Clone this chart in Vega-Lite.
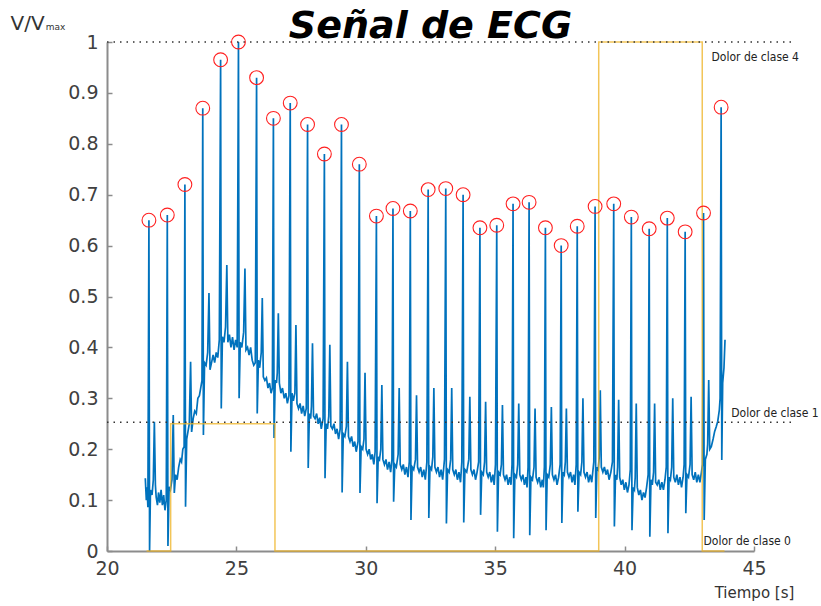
{
  "$schema": "https://vega.github.io/schema/vega-lite/v6.json",
  "width": 647,
  "height": 509,
  "autosize": {"type": "none"},
  "padding": {"left": 107, "top": 42, "right": 67, "bottom": 55},
  "background": "white",
  "title": {
    "text": "Señal de ECG",
    "font": "DejaVu Sans",
    "fontSize": 38,
    "fontWeight": "bold",
    "fontStyle": "italic",
    "color": "#000000",
    "anchor": "middle",
    "frame": "group",
    "offset": 4,
    "dy": 37
  },
  "config": {
    "view": {"stroke": null},
    "font": "DejaVu Sans"
  },
  "datasets": {
    "ecg": [
      {"t":21.48,"v":0.143},{"t":21.52,"v":0.10},{"t":21.55,"v":0.125},{"t":21.58,"v":0.086},
      {"t":21.62,"v":0.65},{"t":21.645,"v":0.0},{"t":21.68,"v":0.12},{"t":21.74,"v":0.11},{"t":21.79,"v":0.14},{"t":21.83,"v":0.254},{"t":21.87,"v":0.13},{"t":21.9,"v":0.106},{"t":21.95,"v":0.09},{"t":21.99,"v":0.115},{"t":22.04,"v":0.095},{"t":22.09,"v":0.12},{"t":22.14,"v":0.09},{"t":22.19,"v":0.11},{"t":22.24,"v":0.08},{"t":22.29,"v":0.1},
      {"t":22.33,"v":0.66},{"t":22.355,"v":0.01},{"t":22.40,"v":0.126},{"t":22.45,"v":0.12},{"t":22.51,"v":0.14},{"t":22.56,"v":0.267},{"t":22.60,"v":0.114},{"t":22.65,"v":0.15},{"t":22.71,"v":0.14},{"t":22.77,"v":0.165},{"t":22.83,"v":0.18},{"t":22.88,"v":0.175},{"t":22.93,"v":0.2},{"t":22.98,"v":0.205},
      {"t":23.01,"v":0.72},{"t":23.035,"v":0.087},{"t":23.08,"v":0.22},{"t":23.13,"v":0.235},{"t":23.18,"v":0.25},{"t":23.23,"v":0.372},{"t":23.27,"v":0.234},{"t":23.33,"v":0.26},{"t":23.39,"v":0.275},{"t":23.45,"v":0.27},{"t":23.51,"v":0.3},{"t":23.57,"v":0.305},{"t":23.62,"v":0.32},{"t":23.67,"v":0.335},
      {"t":23.70,"v":0.87},{"t":23.725,"v":0.228},{"t":23.77,"v":0.37},{"t":23.83,"v":0.365},{"t":23.89,"v":0.39},{"t":23.94,"v":0.507},{"t":23.98,"v":0.356},{"t":24.04,"v":0.37},{"t":24.1,"v":0.385},{"t":24.16,"v":0.37},{"t":24.22,"v":0.39},{"t":24.28,"v":0.38},{"t":24.34,"v":0.415},
      {"t":24.39,"v":0.965},{"t":24.415,"v":0.28},{"t":24.46,"v":0.421},{"t":24.52,"v":0.41},{"t":24.58,"v":0.44},{"t":24.63,"v":0.562},{"t":24.67,"v":0.41},{"t":24.73,"v":0.425},{"t":24.79,"v":0.4},{"t":24.85,"v":0.42},{"t":24.91,"v":0.395},{"t":24.97,"v":0.415},{"t":25.03,"v":0.4},
      {"t":25.08,"v":1.0},{"t":25.105,"v":0.30},{"t":25.15,"v":0.41},{"t":25.21,"v":0.4},{"t":25.28,"v":0.43},{"t":25.33,"v":0.555},{"t":25.37,"v":0.395},{"t":25.43,"v":0.4},{"t":25.49,"v":0.385},{"t":25.55,"v":0.4},{"t":25.61,"v":0.375},{"t":25.67,"v":0.365},{"t":25.73,"v":0.37},
      {"t":25.78,"v":0.93},{"t":25.805,"v":0.27},{"t":25.85,"v":0.375},{"t":25.9,"v":0.36},{"t":25.96,"v":0.39},{"t":26.0,"v":0.497},{"t":26.04,"v":0.342},{"t":26.1,"v":0.335},{"t":26.16,"v":0.34},{"t":26.22,"v":0.32},{"t":26.28,"v":0.33},{"t":26.34,"v":0.31},{"t":26.39,"v":0.32},
      {"t":26.43,"v":0.85},{"t":26.455,"v":0.222},{"t":26.5,"v":0.336},{"t":26.55,"v":0.33},{"t":26.58,"v":0.35},{"t":26.62,"v":0.467},{"t":26.66,"v":0.33},{"t":26.72,"v":0.31},{"t":26.78,"v":0.32},{"t":26.85,"v":0.3},{"t":26.91,"v":0.31},{"t":26.97,"v":0.29},{"t":27.03,"v":0.305},
      {"t":27.08,"v":0.88},{"t":27.105,"v":0.195},{"t":27.15,"v":0.31},{"t":27.2,"v":0.295},{"t":27.26,"v":0.31},{"t":27.3,"v":0.444},{"t":27.34,"v":0.29},{"t":27.4,"v":0.28},{"t":27.46,"v":0.29},{"t":27.52,"v":0.27},{"t":27.58,"v":0.285},{"t":27.64,"v":0.265},{"t":27.7,"v":0.28},
      {"t":27.75,"v":0.838},{"t":27.775,"v":0.163},{"t":27.82,"v":0.27},{"t":27.87,"v":0.26},{"t":27.9,"v":0.285},{"t":27.94,"v":0.408},{"t":27.98,"v":0.265},{"t":28.04,"v":0.26},{"t":28.1,"v":0.27},{"t":28.16,"v":0.25},{"t":28.22,"v":0.262},{"t":28.28,"v":0.24},{"t":28.35,"v":0.26},
      {"t":28.40,"v":0.78},{"t":28.425,"v":0.143},{"t":28.47,"v":0.25},{"t":28.52,"v":0.24},{"t":28.57,"v":0.265},{"t":28.61,"v":0.405},{"t":28.65,"v":0.245},{"t":28.71,"v":0.24},{"t":28.77,"v":0.25},{"t":28.83,"v":0.23},{"t":28.89,"v":0.24},{"t":28.95,"v":0.22},{"t":29.01,"v":0.24},
      {"t":29.06,"v":0.838},{"t":29.085,"v":0.115},{"t":29.13,"v":0.23},{"t":29.19,"v":0.225},{"t":29.25,"v":0.245},{"t":29.29,"v":0.372},{"t":29.33,"v":0.225},{"t":29.39,"v":0.215},{"t":29.45,"v":0.225},{"t":29.51,"v":0.205},{"t":29.57,"v":0.215},{"t":29.63,"v":0.195},{"t":29.70,"v":0.215},
      {"t":29.75,"v":0.76},{"t":29.775,"v":0.114},{"t":29.82,"v":0.205},{"t":29.88,"v":0.2},{"t":29.93,"v":0.22},{"t":29.97,"v":0.35},{"t":30.01,"v":0.2},{"t":30.07,"v":0.19},{"t":30.13,"v":0.2},{"t":30.19,"v":0.18},{"t":30.25,"v":0.19},{"t":30.31,"v":0.17},{"t":30.36,"v":0.195},
      {"t":30.41,"v":0.658},{"t":30.435,"v":0.094},{"t":30.48,"v":0.185},{"t":30.53,"v":0.18},{"t":30.58,"v":0.2},{"t":30.62,"v":0.326},{"t":30.66,"v":0.18},{"t":30.72,"v":0.17},{"t":30.78,"v":0.18},{"t":30.84,"v":0.16},{"t":30.9,"v":0.175},{"t":30.96,"v":0.155},{"t":31.01,"v":0.18},
      {"t":31.05,"v":0.673},{"t":31.075,"v":0.097},{"t":31.12,"v":0.17},{"t":31.18,"v":0.165},{"t":31.25,"v":0.19},{"t":31.29,"v":0.32},{"t":31.33,"v":0.17},{"t":31.39,"v":0.16},{"t":31.45,"v":0.17},{"t":31.51,"v":0.15},{"t":31.57,"v":0.165},{"t":31.63,"v":0.145},{"t":31.68,"v":0.175},
      {"t":31.72,"v":0.668},{"t":31.745,"v":0.061},{"t":31.79,"v":0.165},{"t":31.85,"v":0.16},{"t":31.92,"v":0.18},{"t":31.96,"v":0.306},{"t":32.0,"v":0.165},{"t":32.06,"v":0.155},{"t":32.12,"v":0.165},{"t":32.18,"v":0.145},{"t":32.24,"v":0.16},{"t":32.3,"v":0.14},{"t":32.36,"v":0.175},
      {"t":32.41,"v":0.71},{"t":32.435,"v":0.065},{"t":32.48,"v":0.165},{"t":32.54,"v":0.16},{"t":32.59,"v":0.185},{"t":32.63,"v":0.32},{"t":32.67,"v":0.165},{"t":32.73,"v":0.155},{"t":32.79,"v":0.165},{"t":32.85,"v":0.145},{"t":32.91,"v":0.16},{"t":32.97,"v":0.14},{"t":33.04,"v":0.18},
      {"t":33.09,"v":0.712},{"t":33.115,"v":0.054},{"t":33.16,"v":0.16},{"t":33.22,"v":0.155},{"t":33.28,"v":0.18},{"t":33.32,"v":0.32},{"t":33.36,"v":0.16},{"t":33.42,"v":0.15},{"t":33.48,"v":0.16},{"t":33.54,"v":0.14},{"t":33.6,"v":0.155},{"t":33.66,"v":0.135},{"t":33.71,"v":0.175},
      {"t":33.76,"v":0.70},{"t":33.785,"v":0.056},{"t":33.83,"v":0.16},{"t":33.9,"v":0.155},{"t":33.98,"v":0.18},{"t":34.02,"v":0.303},{"t":34.06,"v":0.16},{"t":34.12,"v":0.15},{"t":34.18,"v":0.16},{"t":34.24,"v":0.14},{"t":34.3,"v":0.155},{"t":34.36,"v":0.175},
      {"t":34.41,"v":0.635},{"t":34.435,"v":0.071},{"t":34.48,"v":0.155},{"t":34.54,"v":0.15},{"t":34.59,"v":0.175},{"t":34.63,"v":0.293},{"t":34.67,"v":0.155},{"t":34.73,"v":0.145},{"t":34.79,"v":0.155},{"t":34.85,"v":0.135},{"t":34.91,"v":0.15},{"t":34.96,"v":0.13},{"t":35.01,"v":0.17},
      {"t":35.06,"v":0.64},{"t":35.085,"v":0.038},{"t":35.13,"v":0.155},{"t":35.19,"v":0.15},{"t":35.24,"v":0.17},{"t":35.28,"v":0.287},{"t":35.32,"v":0.15},{"t":35.38,"v":0.14},{"t":35.44,"v":0.15},{"t":35.5,"v":0.13},{"t":35.56,"v":0.145},{"t":35.61,"v":0.13},{"t":35.65,"v":0.17},
      {"t":35.69,"v":0.682},{"t":35.715,"v":0.025},{"t":35.76,"v":0.15},{"t":35.82,"v":0.145},{"t":35.87,"v":0.17},{"t":35.91,"v":0.29},{"t":35.95,"v":0.15},{"t":36.01,"v":0.14},{"t":36.07,"v":0.15},{"t":36.13,"v":0.13},{"t":36.19,"v":0.145},{"t":36.23,"v":0.125},{"t":36.27,"v":0.165},
      {"t":36.31,"v":0.685},{"t":36.335,"v":0.031},{"t":36.38,"v":0.145},{"t":36.44,"v":0.14},{"t":36.5,"v":0.165},{"t":36.54,"v":0.28},{"t":36.58,"v":0.145},{"t":36.64,"v":0.135},{"t":36.7,"v":0.145},{"t":36.76,"v":0.125},{"t":36.82,"v":0.14},{"t":36.86,"v":0.125},{"t":36.9,"v":0.165},
      {"t":36.94,"v":0.635},{"t":36.965,"v":0.041},{"t":37.01,"v":0.15},{"t":37.07,"v":0.145},{"t":37.13,"v":0.17},{"t":37.17,"v":0.283},{"t":37.21,"v":0.15},{"t":37.27,"v":0.14},{"t":37.33,"v":0.15},{"t":37.39,"v":0.13},{"t":37.45,"v":0.145},{"t":37.51,"v":0.17},
      {"t":37.55,"v":0.60},{"t":37.575,"v":0.055},{"t":37.62,"v":0.155},{"t":37.67,"v":0.15},{"t":37.71,"v":0.175},{"t":37.75,"v":0.28},{"t":37.79,"v":0.155},{"t":37.85,"v":0.145},{"t":37.91,"v":0.155},{"t":37.97,"v":0.135},{"t":38.03,"v":0.15},{"t":38.08,"v":0.13},{"t":38.13,"v":0.17},
      {"t":38.17,"v":0.638},{"t":38.195,"v":0.077},{"t":38.24,"v":0.155},{"t":38.3,"v":0.15},{"t":38.35,"v":0.175},{"t":38.39,"v":0.30},{"t":38.43,"v":0.155},{"t":38.49,"v":0.145},{"t":38.55,"v":0.155},{"t":38.61,"v":0.135},{"t":38.67,"v":0.15},{"t":38.73,"v":0.135},{"t":38.81,"v":0.175},
      {"t":38.86,"v":0.677},{"t":38.885,"v":0.065},{"t":38.93,"v":0.165},{"t":38.98,"v":0.16},{"t":39.02,"v":0.185},{"t":39.06,"v":0.316},{"t":39.1,"v":0.165},{"t":39.16,"v":0.155},{"t":39.22,"v":0.165},{"t":39.28,"v":0.15},{"t":39.34,"v":0.16},{"t":39.4,"v":0.14},{"t":39.47,"v":0.155},{"t":39.53,"v":0.175},
      {"t":39.58,"v":0.682},{"t":39.605,"v":0.048},{"t":39.65,"v":0.15},{"t":39.7,"v":0.14},{"t":39.73,"v":0.165},{"t":39.77,"v":0.297},{"t":39.81,"v":0.145},{"t":39.87,"v":0.13},{"t":39.93,"v":0.14},{"t":39.99,"v":0.12},{"t":40.05,"v":0.135},{"t":40.11,"v":0.115},{"t":40.17,"v":0.13},{"t":40.22,"v":0.16},
      {"t":40.26,"v":0.656},{"t":40.285,"v":0.041},{"t":40.33,"v":0.125},{"t":40.38,"v":0.12},{"t":40.41,"v":0.145},{"t":40.45,"v":0.29},{"t":40.49,"v":0.125},{"t":40.55,"v":0.11},{"t":40.61,"v":0.12},{"t":40.67,"v":0.1},{"t":40.73,"v":0.115},{"t":40.79,"v":0.105},{"t":40.85,"v":0.125},{"t":40.91,"v":0.15},
      {"t":40.95,"v":0.633},{"t":40.975,"v":0.028},{"t":41.02,"v":0.14},{"t":41.07,"v":0.13},{"t":41.12,"v":0.155},{"t":41.16,"v":0.29},{"t":41.2,"v":0.135},{"t":41.26,"v":0.13},{"t":41.32,"v":0.14},{"t":41.38,"v":0.12},{"t":41.44,"v":0.135},{"t":41.5,"v":0.12},{"t":41.56,"v":0.14},{"t":41.61,"v":0.165},
      {"t":41.65,"v":0.654},{"t":41.675,"v":0.035},{"t":41.72,"v":0.145},{"t":41.77,"v":0.14},{"t":41.82,"v":0.165},{"t":41.86,"v":0.30},{"t":41.9,"v":0.145},{"t":41.96,"v":0.135},{"t":42.02,"v":0.15},{"t":42.08,"v":0.13},{"t":42.14,"v":0.145},{"t":42.2,"v":0.125},{"t":42.26,"v":0.145},{"t":42.3,"v":0.17},
      {"t":42.34,"v":0.627},{"t":42.365,"v":0.074},{"t":42.41,"v":0.15},{"t":42.47,"v":0.145},{"t":42.53,"v":0.17},{"t":42.57,"v":0.303},{"t":42.61,"v":0.15},{"t":42.67,"v":0.14},{"t":42.73,"v":0.155},{"t":42.79,"v":0.135},{"t":42.85,"v":0.15},{"t":42.91,"v":0.135},{"t":42.97,"v":0.155},{"t":43.01,"v":0.17},
      {"t":43.05,"v":0.664},{"t":43.075,"v":0.061},{"t":43.12,"v":0.18},{"t":43.18,"v":0.19},{"t":43.21,"v":0.21},{"t":43.25,"v":0.336},{"t":43.29,"v":0.2},{"t":43.35,"v":0.205},{"t":43.42,"v":0.22},{"t":43.48,"v":0.235},{"t":43.54,"v":0.244},{"t":43.6,"v":0.255},{"t":43.66,"v":0.277},{"t":43.69,"v":0.3},
      {"t":43.73,"v":0.872},{"t":43.755,"v":0.179},{"t":43.79,"v":0.33},{"t":43.84,"v":0.36},{"t":43.88,"v":0.415}
    ],
    "picos": [
      {"t":21.62,"v":0.65},{"t":22.33,"v":0.66},{"t":23.01,"v":0.72},{"t":23.70,"v":0.87},{"t":24.39,"v":0.965},
      {"t":25.08,"v":1.0},{"t":25.78,"v":0.93},{"t":26.43,"v":0.85},{"t":27.08,"v":0.88},{"t":27.75,"v":0.838},
      {"t":28.40,"v":0.78},{"t":29.06,"v":0.838},{"t":29.75,"v":0.76},{"t":30.41,"v":0.658},{"t":31.05,"v":0.673},
      {"t":31.72,"v":0.668},{"t":32.41,"v":0.71},{"t":33.09,"v":0.712},{"t":33.76,"v":0.70},{"t":34.41,"v":0.635},
      {"t":35.06,"v":0.64},{"t":35.69,"v":0.682},{"t":36.31,"v":0.685},{"t":36.94,"v":0.635},{"t":37.55,"v":0.60},
      {"t":38.17,"v":0.638},{"t":38.86,"v":0.677},{"t":39.58,"v":0.682},{"t":40.26,"v":0.656},{"t":40.95,"v":0.633},
      {"t":41.65,"v":0.654},{"t":42.34,"v":0.627},{"t":43.05,"v":0.664},{"t":43.73,"v":0.872}
    ],
    "clase": [
      {"t":21.53,"v":0},{"t":22.46,"v":0.25},{"t":26.49,"v":0},{"t":39.0,"v":1},{"t":43.0,"v":0},{"t":43.86,"v":0}
    ],
    "umbrales": [
      {"t":20,"t2":46.57,"v":1},
      {"t":20,"t2":46.57,"v":0.253}
    ],
    "etiquetas": [
      {"t":43.36,"v":0.9715,"label":"Dolor de clase 4"},
      {"t":44.12,"v":0.271,"label":"Dolor de clase 1"},
      {"t":43.05,"v":0.019,"label":"Dolor de clase 0"}
    ],
    "subindice": [
      {"t":17.63,"v":1.03,"label":"max"}
    ]
  },
  "encoding": {
    "x": {
      "field": "t",
      "type": "quantitative",
      "scale": {"domain": [20, 45], "nice": false},
      "axis": {
        "values": [20, 25, 30, 35, 40, 45],
        "grid": false,
        "title": "Tiempo [s]",
        "titleX": 647,
        "titleY": 41,
        "titleAlign": "center",
        "titleBaseline": "middle",
        "titleFont": "DejaVu Sans",
        "titleFontSize": 15,
        "titleFontWeight": "normal",
        "titleColor": "#333333",
        "labelFont": "DejaVu Sans",
        "labelFontSize": 19,
        "labelColor": "#404040",
        "labelPadding": 13,
        "labelFlush": false,
        "tickSize": -5,
        "tickColor": "#8c8c8c",
        "tickWidth": 1.5,
        "domainColor": "#8c8c8c",
        "domainWidth": 2
      }
    },
    "y": {
      "field": "v",
      "type": "quantitative",
      "scale": {"domain": [0, 1], "nice": false},
      "axis": {
        "values": [0, 0.1, 0.2, 0.3, 0.4, 0.5, 0.6, 0.7, 0.8, 0.9, 1],
        "format": ".1~f",
        "grid": false,
        "title": "V/V",
        "titleAngle": 0,
        "titleX": -97,
        "titleY": -19,
        "titleAlign": "left",
        "titleBaseline": "middle",
        "titleFont": "DejaVu Sans",
        "titleFontSize": 20,
        "titleFontWeight": "normal",
        "titleColor": "#333333",
        "labelFont": "DejaVu Sans",
        "labelFontSize": 19,
        "labelColor": "#404040",
        "labelPadding": 14,
        "labelFlush": false,
        "tickSize": -5,
        "tickColor": "#8c8c8c",
        "tickWidth": 1.5,
        "domainColor": "#8c8c8c",
        "domainWidth": 2
      }
    }
  },
  "layer": [
    {
      "data": {"name": "ecg"},
      "mark": {"type": "line", "color": "#0072BD", "strokeWidth": 1.7}
    },
    {
      "data": {"name": "clase"},
      "mark": {"type": "line", "color": "#EDB120", "strokeWidth": 1.5, "strokeOpacity": 0.75, "interpolate": "step-after"}
    },
    {
      "data": {"name": "umbrales"},
      "mark": {"type": "rule", "color": "#333333", "strokeWidth": 1.5, "strokeDash": [1.5, 5]},
      "encoding": {"x2": {"field": "t2"}}
    },
    {
      "data": {"name": "picos"},
      "mark": {"type": "point", "shape": "circle", "filled": false, "color": "#FF2020", "size": 190, "strokeWidth": 1.1, "opacity": 1}
    },
    {
      "data": {"name": "etiquetas"},
      "mark": {"type": "text", "align": "left", "baseline": "middle", "font": "DejaVu Sans Condensed", "fontSize": 12, "color": "#222222"},
      "encoding": {"text": {"field": "label"}}
    },
    {
      "data": {"name": "subindice"},
      "mark": {"type": "text", "align": "left", "baseline": "middle", "font": "DejaVu Sans", "fontSize": 9, "color": "#333333"},
      "encoding": {"text": {"field": "label"}}
    }
  ]
}
